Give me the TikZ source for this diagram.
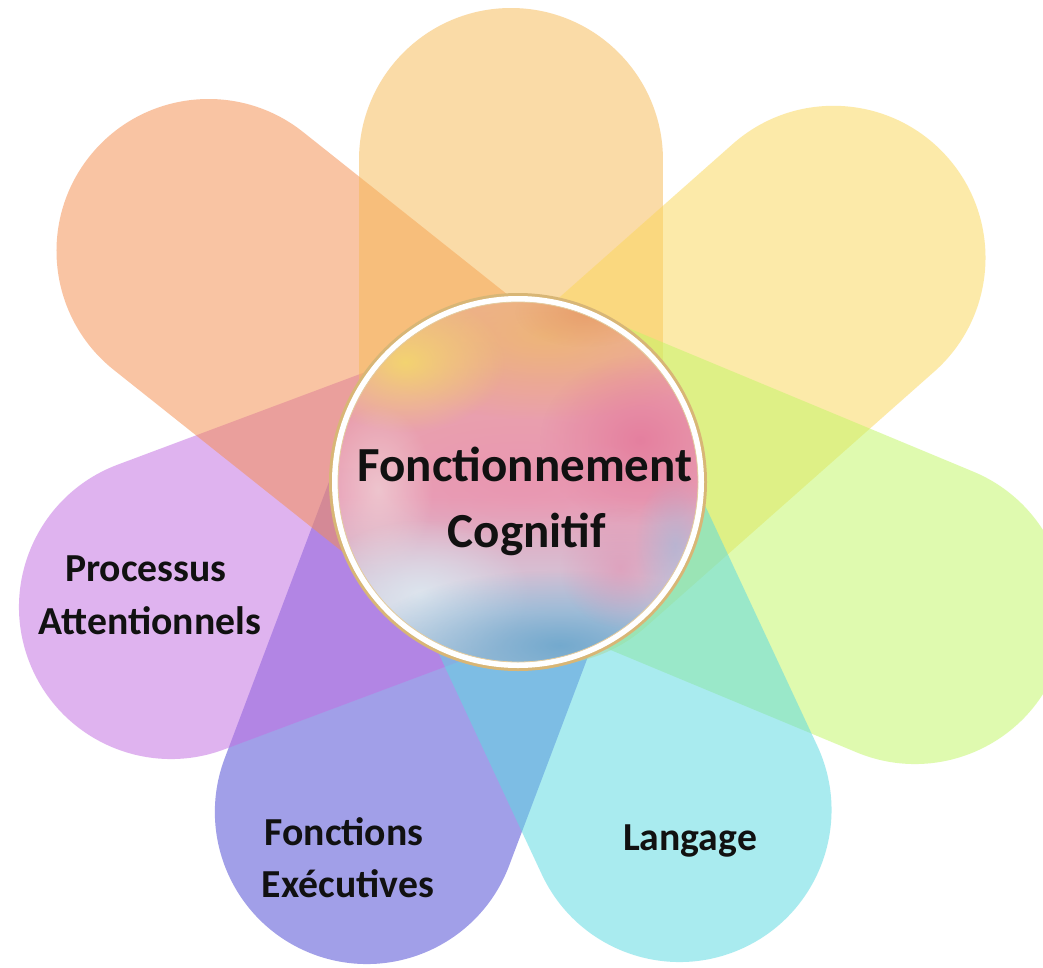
\documentclass[tikz,border=0pt]{standalone}
\usepackage{fontspec}
\setmainfont{Carlito}
\usetikzlibrary{fadings}
\definecolor{pTop}{RGB}{247,186,88}
\definecolor{pSalmon}{RGB}{245,142,80}
\definecolor{pYellow}{RGB}{251,215,92}
\definecolor{pGreen}{RGB}{195,247,103}
\definecolor{pCyan}{RGB}{92,217,226}
\definecolor{pBlue}{RGB}{76,72,211}
\definecolor{pPurple}{RGB}{195,111,226}
\definecolor{ringGold}{RGB}{216,182,118}
\definecolor{txt}{RGB}{17,17,17}
\definecolor{dA}{RGB}{110,165,202}
\definecolor{dB}{RGB}{150,190,215}
\definecolor{dC}{RGB}{205,208,226}
\definecolor{dD}{RGB}{232,158,182}
\definecolor{dE}{RGB}{234,160,170}
\definecolor{dF}{RGB}{238,180,140}
\definecolor{dG}{RGB}{236,190,120}
\pgfdeclareverticalshading{discshade}{100bp}{color(0bp)=(dA); color(18bp)=(dB); color(32bp)=(dC); color(48bp)=(dD); color(64bp)=(dE); color(78bp)=(dF); color(100bp)=(dG)}
\tikzfading[name=softblob, inner color=transparent!0, outer color=transparent!100]
\begin{document}
\begin{tikzpicture}[x=1pt,y=-1pt,
  petal/.style={line width=304pt, line cap=round, draw opacity=0.52},
  blob/.style={path fading=softblob, fill opacity=#1},
  blob/.default=0.8,
  lbl/.style={font=\fontsize{39.7}{48}\selectfont\bfseries, text=txt, inner sep=0pt, anchor=base},
  ctr/.style={font=\fontsize{49}{58}\selectfont\bfseries, text=txt, inner sep=0pt, anchor=base}]
\useasboundingbox (0,0) rectangle (1043,967);
\clip (0,0) rectangle (1043,967);
\fill[white] (0,0) rectangle (1043,967);

% petal axes (inner end, cap centre)
\coordinate (O) at (518,482);
\coordinate (blueI) at (494.8,473);   \coordinate (blueC) at (366.9,812);
\coordinate (purpleI) at (516.5,477.8); \coordinate (purpleC) at (171,607);
\coordinate (salmonI) at (510.6,491.3); \coordinate (salmonC) at (208.5,251);
\coordinate (topI) at (511,482);      \coordinate (topC) at (511,160);
\coordinate (yellowI) at (545.2,513); \coordinate (yellowC) at (833.5,257.8);
\coordinate (greenI) at (530.7,452.1); \coordinate (greenC) at (915,612);
\coordinate (cyanI) at (524.9,478.9); \coordinate (cyanC) at (679.5,810);

\draw[petal, draw=pBlue]   (blueI) -- (blueC);
\draw[petal, draw=pPurple] (purpleI) -- (purpleC);
\draw[petal, draw=pSalmon] (salmonI) -- (salmonC);
\draw[petal, draw=pTop]    (topI) -- (topC);
\draw[petal, draw=pYellow] (yellowI) -- (yellowC);
\draw[petal, draw=pGreen]  (greenI) -- (greenC);
\draw[petal, draw=pCyan]   (cyanI) -- (cyanC);

% centre disc
\fill[ringGold] (O) circle (189);
\fill[white] (O) circle (186);
\begin{scope}
  \clip (O) circle (180);
  \shade[shading=discshade] (336,300) rectangle (700,664);
  \fill[blob=0.9, color={rgb,255:red,238;green,182;blue,118}] (545,335) ellipse (190 and 85);
  \fill[blob=0.9, color={rgb,255:red,244;green,216;blue,108}] (405,362) ellipse (100 and 70);
  \fill[blob=0.7, color={rgb,255:red,230;green,152;blue,100}] (585,312) ellipse (70 and 35);
  \fill[blob=0.85, color={rgb,255:red,228;green,122;blue,156}] (640,440) ellipse (100 and 85);
  \fill[blob=0.6, color={rgb,255:red,234;green,146;blue,174}] (520,478) ellipse (140 and 60);
  \fill[blob=0.6, color={rgb,255:red,242;green,222;blue,222}] (378,490) ellipse (55 and 85);
  \fill[blob=0.9, color={rgb,255:red,222;green,232;blue,240}] (420,595) ellipse (110 and 75);
  \fill[blob=0.9, color={rgb,255:red,108;green,166;blue,204}] (560,645) ellipse (200 and 75);
  \fill[blob=0.6, color={rgb,255:red,226;green,146;blue,178}] (620,568) ellipse (60 and 60);
  \fill[blob=0.5, color={rgb,255:red,150;green,182;blue,218}] (675,545) ellipse (40 and 70);
\end{scope}
\draw[ringGold!70, line width=0.8pt] (O) circle (180);

% texts
\node[ctr] (c1) at (525,481) {Fonctionnement};
\node[ctr] (c2) at (527,547) {Cognitif};
\node[lbl] (p1) at (146,581) {Processus};
\node[lbl] (p2) at (150,634) {Attentionnels};
\node[lbl] (f1) at (344,845) {Fonctions};
\node[lbl] (f2) at (348,897) {Exécutives};
\node[lbl] (l1) at (690,850) {Langage};
\end{tikzpicture}
\end{document}
